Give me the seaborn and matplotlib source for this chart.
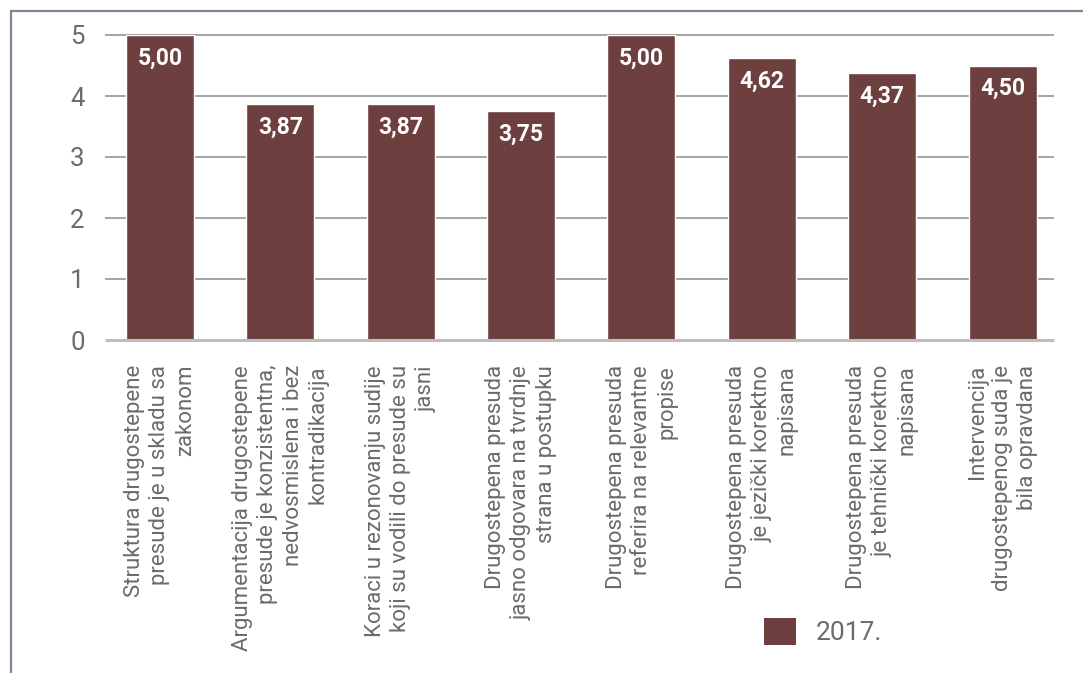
import numpy as np
import pandas as pd
import matplotlib
matplotlib.use("Agg")
import matplotlib.pyplot as plt
import seaborn as sns
from matplotlib.lines import Line2D
from matplotlib.patches import Patch

# Data
categories = [
    "Struktura drugostepene\npresude je u skladu sa\nzakonom",
    "Argumentacija drugostepene\npresude je konzistentna,\nnedvosmislena i bez\nkontradikacija",
    "Koraci u rezonovanju sudije\nkoji su vodili do presude su\njasni",
    "Drugostepena presuda\njasno odgovara na tvrdnje\nstrana u postupku",
    "Drugostepena presuda\nreferira na relevantne\npropise",
    "Drugostepena presuda\nje jezički korektno\nnapisana",
    "Drugostepena presuda\nje tehnički korektno\nnapisana",
    "Intervencija\ndrugostepenog suda je\nbila opravdana",
]
values_2017 = [5.00, 3.87, 3.87, 3.75, 5.00, 4.62, 4.37, 4.50]
y_ticks = [0, 1, 2, 3, 4, 5]
series_name = "2017."

BAR_COLOR = "#6e3f3f"
GRID_COLOR = "#8c8c8c"
TEXT_GRAY = "#6b6b6b"
FRAME_COLOR = "#7b8899"


def make_chart():
    sns.set_style("white")
    plt.rcParams["font.family"] = ["Roboto", "DejaVu Sans"]

    fig = plt.figure(figsize=(10.83, 6.73), dpi=100)
    ax = fig.add_axes([99.8 / 1083, 1 - 340 / 673, 962.9 / 1083, 305 / 673])

    df = pd.DataFrame({"category": categories, "value": values_2017})
    sns.barplot(data=df, x="category", y="value", color=BAR_COLOR,
                width=0.565, saturation=1, ax=ax, zorder=3)

    ax.set_xlim(-0.5, len(categories) - 0.5)
    ax.set_ylim(0, 5)
    ax.set_yticks(y_ticks)
    ax.set_xlabel("")
    ax.set_ylabel("")

    # gridlines
    for t in y_ticks[1:]:
        ax.hlines(t, -0.46, len(categories) - 0.57, color=GRID_COLOR,
                  lw=1.1, zorder=1, clip_on=False)
    ax.hlines(0, -0.46, len(categories) - 0.57, color="#bdbdbd",
              lw=2.2, zorder=4, clip_on=False)

    for s in ax.spines.values():
        s.set_visible(False)

    ax.tick_params(axis="y", length=0, pad=11, labelsize=18.5,
                   labelcolor=TEXT_GRAY)
    ax.tick_params(axis="x", length=0, pad=18)
    ax.set_xticks(range(len(categories)))
    ax.set_xticklabels(categories, rotation=90, ha="center", va="top",
                       multialignment="right", fontsize=16,
                       color=TEXT_GRAY, linespacing=1.27)

    # value labels inside bars
    for i, v in enumerate(values_2017):
        ax.annotate(f"{v:.2f}".replace(".", ","), xy=(i, v),
                    xytext=(0, -23), textcoords="offset pixels",
                    ha="center", va="center", color="white",
                    fontsize=16.5, fontweight="bold", zorder=5)

    # legend
    handle = Patch(facecolor=BAR_COLOR, edgecolor="none")
    fig.legend([handle], [series_name], loc="upper left",
               bbox_to_anchor=(764 / 1083, 1 - 618 / 673),
               frameon=False, borderpad=0, borderaxespad=0,
               handlelength=1.2, handleheight=1.2, handletextpad=0.75,
               fontsize=19, labelcolor=TEXT_GRAY)

    # frame of the original slide
    fig.add_artist(Line2D([10.5 / 1083, 10.5 / 1083], [0, 1 - 11 / 673],
                          color=FRAME_COLOR, lw=1.6))
    fig.add_artist(Line2D([10.5 / 1083, 1], [1 - 11 / 673, 1 - 11 / 673],
                          color=FRAME_COLOR, lw=1.6))

    fig.savefig("out.png", dpi=100)


if __name__ == "__main__":
    make_chart()
